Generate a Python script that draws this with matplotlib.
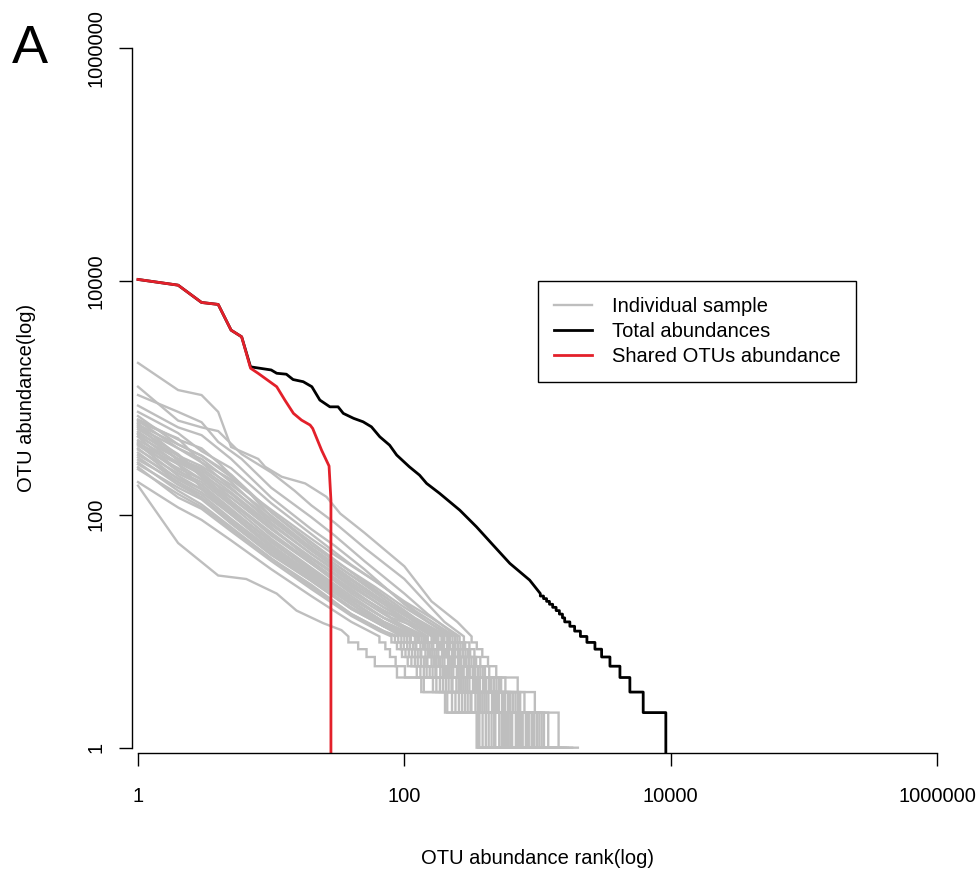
import matplotlib
matplotlib.use("Agg")
import matplotlib.pyplot as plt

plt.rcParams['font.family'] = ['Liberation Sans', 'DejaVu Sans']

# ---- data ----
# individual samples: head of the curve (rank, abundance), then the rank where
# each abundance level 8,7,...,1 ends (the staircase tail)
grey_head_rank = [
    [1, 2, 3, 4, 5, 8, 9, 12, 18, 26, 33, 50, 100, 160, 250, 320],
    [1, 2, 3, 4, 6, 10, 15, 20, 30, 50, 100, 150, 200, 280],
    [1, 2, 3, 4, 6, 10, 20, 30, 50, 100, 150, 250],
    [1, 2, 3, 5, 10, 20, 30, 50, 100, 150, 220],
    [1, 2, 3, 5, 10, 20, 40, 70, 120, 240],
    [1, 2, 3, 5, 10, 20, 40, 80, 130, 200],
    [1, 2, 3, 4, 7, 10, 20, 40, 70, 120, 180],
    [1, 2, 3, 5, 10, 20, 30, 60, 100, 160, 260],
    [1, 2, 3, 5, 10, 20, 40, 70, 110, 170],
    [1, 2, 3, 5, 10, 20, 40, 70, 120, 210],
    [1, 2, 3, 5, 10, 20, 30, 60, 100, 150, 230],
    [1, 2, 3, 5, 10, 20, 40, 70, 110, 160],
    [1, 2, 3, 5, 10, 20, 40, 80, 120, 190],
    [1, 2, 3, 5, 10, 20, 40, 70, 100, 150],
    [1, 2, 3, 5, 10, 20, 40, 80, 130, 215],
    [1, 2, 3, 5, 10, 20, 40, 70, 100, 145],
    [1, 2, 3, 5, 10, 20, 40, 70, 110, 175],
    [1, 2, 3, 5, 10, 20, 30, 60, 100, 140, 195],
    [1, 2, 3, 5, 10, 20, 40, 70, 100, 130],
    [1, 2, 3, 5, 10, 20, 40, 80, 120, 165],
    [1, 2, 3, 5, 10, 20, 40, 70, 100, 135],
    [1, 2, 3, 5, 10, 20, 40, 70, 100, 125],
    [1, 2, 3, 5, 10, 20, 40, 70, 120],
    [1, 2, 3, 5, 10, 20, 40, 70, 110, 170],
    [1, 2, 3, 5, 10, 20, 40, 70, 110],
    [1, 2, 3, 5, 10, 20, 40, 70, 100, 140],
    [1, 2, 3, 5, 10, 20, 40, 70, 100],
    [1, 2, 3, 5, 10, 20, 40, 70, 100, 128],
    [1, 2, 3, 5, 10, 20, 40, 70, 95],
    [1, 2, 3, 5, 10, 20, 40, 70, 112],
    [1, 2, 3, 5, 10, 20, 40, 70, 85],
    [1, 2, 3, 5, 10, 20, 40, 70, 105],
    [1, 2, 3, 5, 10, 20, 40, 65, 80],
    [1, 2, 3, 5, 10, 20, 40, 70, 90],
    [1, 2, 3, 5, 10, 20, 40, 65],
    [1, 2, 4, 6.5, 11, 15.5, 24.6, 33.7, 38],
]
grey_head_abund = [
    [2000, 1170, 1060, 760, 380, 300, 257, 211, 185, 142, 102, 70, 36, 18, 12, 9],
    [1250, 640, 560, 520, 330, 230, 160, 120, 85, 52, 28, 17, 12, 9],
    [1060, 760, 620, 420, 300, 170, 95, 66, 40, 21, 14, 9],
    [860, 560, 480, 300, 140, 75, 54, 34, 17, 12, 9],
    [760, 500, 350, 250, 125, 68, 37, 24, 15, 9],
    [700, 400, 320, 220, 105, 58, 32, 18, 12, 9],
    [655, 440, 370, 280, 150, 95, 50, 28, 18, 12, 9],
    [640, 370, 280, 200, 110, 62, 45, 27, 18, 13, 9],
    [625, 450, 280, 170, 85, 46, 26, 17, 12, 9],
    [605, 320, 260, 180, 98, 52, 30, 20, 13, 9],
    [590, 400, 320, 210, 105, 55, 40, 24, 16, 12, 9],
    [575, 290, 230, 140, 75, 42, 24, 16, 12, 9],
    [560, 370, 300, 190, 90, 49, 28, 16, 12, 9],
    [540, 330, 220, 150, 78, 40, 22, 15, 12, 9],
    [515, 300, 250, 165, 90, 52, 30, 17, 12, 9],
    [500, 320, 210, 130, 66, 38, 21, 14, 11, 9],
    [490, 270, 200, 140, 76, 43, 25, 16, 12, 9],
    [470, 300, 240, 155, 82, 46, 34, 20, 14, 11, 9],
    [465, 240, 180, 110, 58, 33, 19, 13, 10.5, 9],
    [435, 280, 220, 130, 70, 39, 23, 13, 11, 9],
    [420, 235, 190, 120, 62, 35, 20, 13, 10.5, 9],
    [410, 270, 170, 108, 60, 32, 18, 12, 10, 9],
    [400, 215, 165, 104, 55, 31, 18, 12, 9],
    [390, 250, 200, 125, 68, 38, 22, 15, 12, 9],
    [370, 200, 155, 100, 52, 30, 17, 11, 9],
    [360, 225, 180, 112, 58, 34, 19, 13, 11, 9],
    [340, 190, 140, 88, 48, 28, 16, 11, 9],
    [325, 205, 165, 100, 54, 31, 18, 12, 10, 9],
    [310, 180, 140, 84, 45, 27, 15.5, 11, 9],
    [295, 190, 148, 92, 50, 29, 17, 11.5, 9],
    [280, 160, 122, 78, 42, 25, 14, 10, 9],
    [270, 170, 135, 84, 46, 27, 15.5, 11, 9],
    [255, 140, 112, 72, 40, 23, 13.5, 10, 9],
    [245, 150, 116, 75, 42, 24, 14, 10, 9],
    [190, 115, 90, 60, 34, 20, 12, 9],
    [177, 57, 30, 28, 21, 15, 11.7, 10.2, 9],
]
grey_tail_end = [
    [350, 385, 425, 490, 710, 955, 1440, 2010],
    [308, 336, 372, 434, 574, 798, 1204, 1820],
    [275, 300, 333, 388, 513, 713, 1075, 1625],
    [242, 264, 293, 341, 451, 627, 946, 1430],
    [264, 288, 319, 372, 492, 684, 1032, 1560],
    [220, 240, 266, 310, 410, 570, 860, 1300],
    [198, 216, 239, 279, 369, 513, 774, 1170],
    [286, 312, 346, 403, 533, 741, 1118, 1690],
    [187, 204, 226, 264, 349, 485, 731, 1105],
    [231, 252, 279, 326, 431, 599, 903, 1365],
    [253, 276, 306, 357, 472, 656, 989, 1495],
    [176, 192, 213, 248, 328, 456, 688, 1040],
    [209, 228, 253, 295, 390, 542, 817, 1235],
    [165, 180, 200, 233, 308, 428, 645, 975],
    [237, 258, 286, 333, 441, 613, 925, 1398],
    [160, 174, 193, 225, 297, 413, 624, 943],
    [193, 210, 233, 271, 359, 499, 753, 1138],
    [215, 234, 259, 302, 400, 556, 839, 1268],
    [143, 156, 173, 202, 267, 371, 559, 845],
    [182, 198, 219, 256, 338, 470, 710, 1073],
    [149, 162, 180, 209, 277, 385, 581, 878],
    [138, 150, 166, 194, 256, 356, 538, 813],
    [132, 144, 160, 186, 246, 342, 516, 780],
    [187, 205, 228, 266, 350, 480, 720, 1090],
    [121, 132, 146, 171, 226, 314, 473, 715],
    [154, 168, 186, 217, 287, 399, 602, 910],
    [110, 120, 133, 155, 205, 285, 430, 650],
    [141, 154, 170, 198, 262, 365, 550, 832],
    [105, 114, 126, 147, 195, 271, 409, 618],
    [123, 134, 149, 174, 230, 319, 482, 728],
    [94, 102, 113, 132, 174, 242, 366, 552],
    [116, 126, 140, 163, 215, 299, 452, 683],
    [88, 96, 106, 124, 164, 228, 360, 520],
    [99, 108, 120, 140, 185, 257, 387, 585],
    [72, 78, 86, 101, 140, 210, 360, 560],
    [45, 52, 60, 88, 134, 202, 349, 500],
]
grey_levels = [8, 7, 6, 5, 4, 3, 2, 1]

# total abundances (black): smooth head, then steps for levels 20..2
black_head_rank = [1, 2, 3, 4, 5, 6, 7, 10, 11, 13, 14.6, 17.4, 20.2, 23.2, 27.6,
                   31.8, 34.8, 41.6, 49, 56.6, 65.4, 77.5, 87.6, 109, 130, 147,
                   184, 261, 348, 464, 620, 873, 1050]
black_head_abund = [10400, 9290, 6600, 6350, 3820, 3350, 1850, 1740, 1630, 1600,
                    1440, 1380, 1250, 960, 840, 840, 738, 669, 625, 566, 465, 394,
                    324, 257, 218, 185, 152, 109, 78.5, 54.7, 38.1, 27.4, 21]
black_levels = [20, 19, 18, 17, 16, 15, 14, 13, 12, 11, 10, 9, 8, 7, 6, 5, 4, 3, 2]
black_tail_end = [1110, 1170, 1230, 1300, 1380, 1460, 1540, 1600, 1750, 1900, 2100,
                  2350, 2700, 3030, 3500, 4160, 4940, 6220, 9200]
black_last = 0.5  # drops below the axis

# shared OTUs (red)
red_rank = [1, 2, 3, 4, 5, 6, 7, 8, 11, 12.7, 14.7, 16.9, 19.6, 20.5, 23.9, 27.2, 28.1, 28.1]
red_abund = [10400, 9290, 6600, 6350, 3820, 3350, 1800, 1625, 1250, 955, 738, 646,
             586, 548, 357, 261, 133, 0.5]

x_ticks = [1, 100, 10000, 1000000]
x_tick_labels = ['1', '100', '10000', '1000000']
y_ticks = [1, 100, 10000, 1000000]
y_tick_labels = ['1', '100', '10000', '1000000']


def staircase(h_rank, h_abund, levels, ends):
    xs = list(h_rank)
    ys = list(h_abund)
    start = h_rank[-1]
    for lev, end in zip(levels, ends):
        xs += [start, end]
        ys += [lev, lev]
        start = end
    return xs, ys


W, H = 980, 876
fig = plt.figure(figsize=(W / 100, H / 100), dpi=100)
ax_l, ax_r, ax_t, ax_b = 132.3, 942.7, 43.3, 752.7
ax = fig.add_axes([ax_l / W, 1 - ax_b / H, (ax_r - ax_l) / W, (ax_b - ax_t) / H])

grey = '#BEBEBE'
for hr, ha, te in zip(grey_head_rank, grey_head_abund, grey_tail_end):
    xs, ys = staircase(hr, ha, grey_levels, te)
    ax.plot(xs, ys, color=grey, lw=1.7, solid_joinstyle='miter')

bx, by = staircase(black_head_rank, black_head_abund, black_levels, black_tail_end)
bx.append(black_tail_end[-1])
by.append(black_last)
ax.plot(bx, by, color='black', lw=2.0)

ax.plot(red_rank, red_abund, color='#E3202A', lw=2.0)

ax.set_xscale('log')
ax.set_yscale('log')
ext = 10 ** 0.043
ax.set_xlim(1 / ext, 1e6 * ext)
ax.set_ylim(1 / ext, 1e6 * ext)

ax.spines['top'].set_visible(False)
ax.spines['right'].set_visible(False)
ax.spines['left'].set_bounds(1, 1e6)
ax.spines['bottom'].set_bounds(1, 1e6)
for s in ('left', 'bottom'):
    ax.spines[s].set_linewidth(1.0)

ax.set_xticks(x_ticks)
ax.set_xticklabels(x_tick_labels)
ax.set_yticks(y_ticks)
ax.set_yticklabels(y_tick_labels)
ax.minorticks_off()
ax.tick_params(axis='both', direction='out', length=9.5, width=1.0, labelsize=14.5)
ax.tick_params(axis='x', pad=15)
ax.tick_params(axis='y', pad=10)
for lab in ax.get_yticklabels():
    lab.set_rotation(90)
    lab.set_va('center')

fig.text(537 / W, 1 - 858 / H, 'OTU abundance rank(log)', ha='center', va='center', fontsize=14.5)
fig.text(26 / W, 1 - 398 / H, 'OTU abundance(log)', ha='center', va='center',
         rotation=90, fontsize=14.5)
fig.text(12 / W, 1 - 63 / H, 'A', ha='left', va='baseline', fontsize=39)

leg_x = (538 - ax_l) / (ax_r - ax_l)
leg_y = (ax_b - 281) / (ax_b - ax_t)
handles = [plt.Line2D([], [], color=grey, lw=1.7),
           plt.Line2D([], [], color='black', lw=2.0),
           plt.Line2D([], [], color='#E3202A', lw=2.0)]
leg = ax.legend(handles, ['Individual sample', 'Total abundances', 'Shared OTUs abundance'],
                loc='upper left', bbox_to_anchor=(leg_x, leg_y), borderaxespad=0,
                fancybox=False, fontsize=14.5, handlelength=1.9, handletextpad=0.95,
                labelspacing=0.3, borderpad=0.8, framealpha=1)
leg.get_frame().set_edgecolor('black')
leg.get_frame().set_linewidth(1.0)

fig.savefig('out.png', dpi=100)
